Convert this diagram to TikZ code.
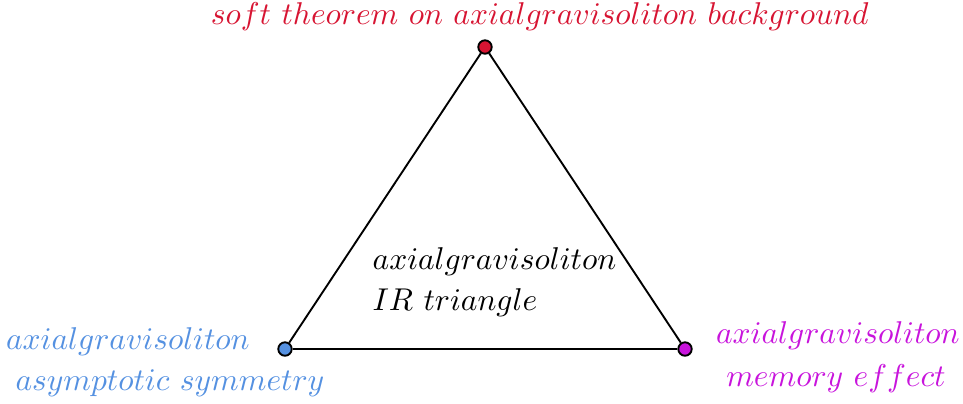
\documentclass[tikz,border=0pt]{standalone}
\usepackage{amsmath,amssymb}
\usepackage{xcolor}
\usetikzlibrary{positioning, calc}

\definecolor{softred}{RGB}{215,20,50}
\definecolor{symblue}{RGB}{85,145,225}
\definecolor{memmag}{RGB}{200,20,220}

\begin{document}
\begin{tikzpicture}[x=0.01115cm, y=-0.01115cm]
        \tikzstyle{vertex} = [circle, draw, semithick, inner sep=0pt, minimum size=0.15cm]
        \tikzstyle{label} = [inner sep=0pt, anchor=base]
        \tikzstyle{edge} = [draw, semithick]

        \useasboundingbox (0,0) rectangle (963,403);

        \node [vertex, fill=softred] (soft) at (485,47) {};
        \node [vertex, fill=symblue] (sym) at (285,349) {};
        \node [vertex, fill=memmag] (mem) at (685,349) {};

        \path [edge] (soft) -- (sym);
        \path [edge] (sym) -- (mem);
        \path [edge] (mem) -- (soft);

        \node [label, text=softred] (softlbl) at (540,24) {$soft\ theorem\ on\ axialgravisoliton\ background$};
        \node [label, text=symblue] (symlbl) at (128,349) {$axialgravisoliton$};
        \node [label, text=symblue] (symlbl2) at (170,390) {$asymptotic\ symmetry$};
        \node [label, text=memmag] (memlbl) at (838,343) {$axialgravisoliton$};
        \node [label, text=memmag] (memlbl2) at (836,386) {$memory\ effect$};
        \node [label, anchor=base west] (mid) at (372,269) {$axialgravisoliton$};
        \node [label, anchor=base west] (mid2) at (372,310) {$IR\ triangle$};
    \end{tikzpicture}
\end{document}
